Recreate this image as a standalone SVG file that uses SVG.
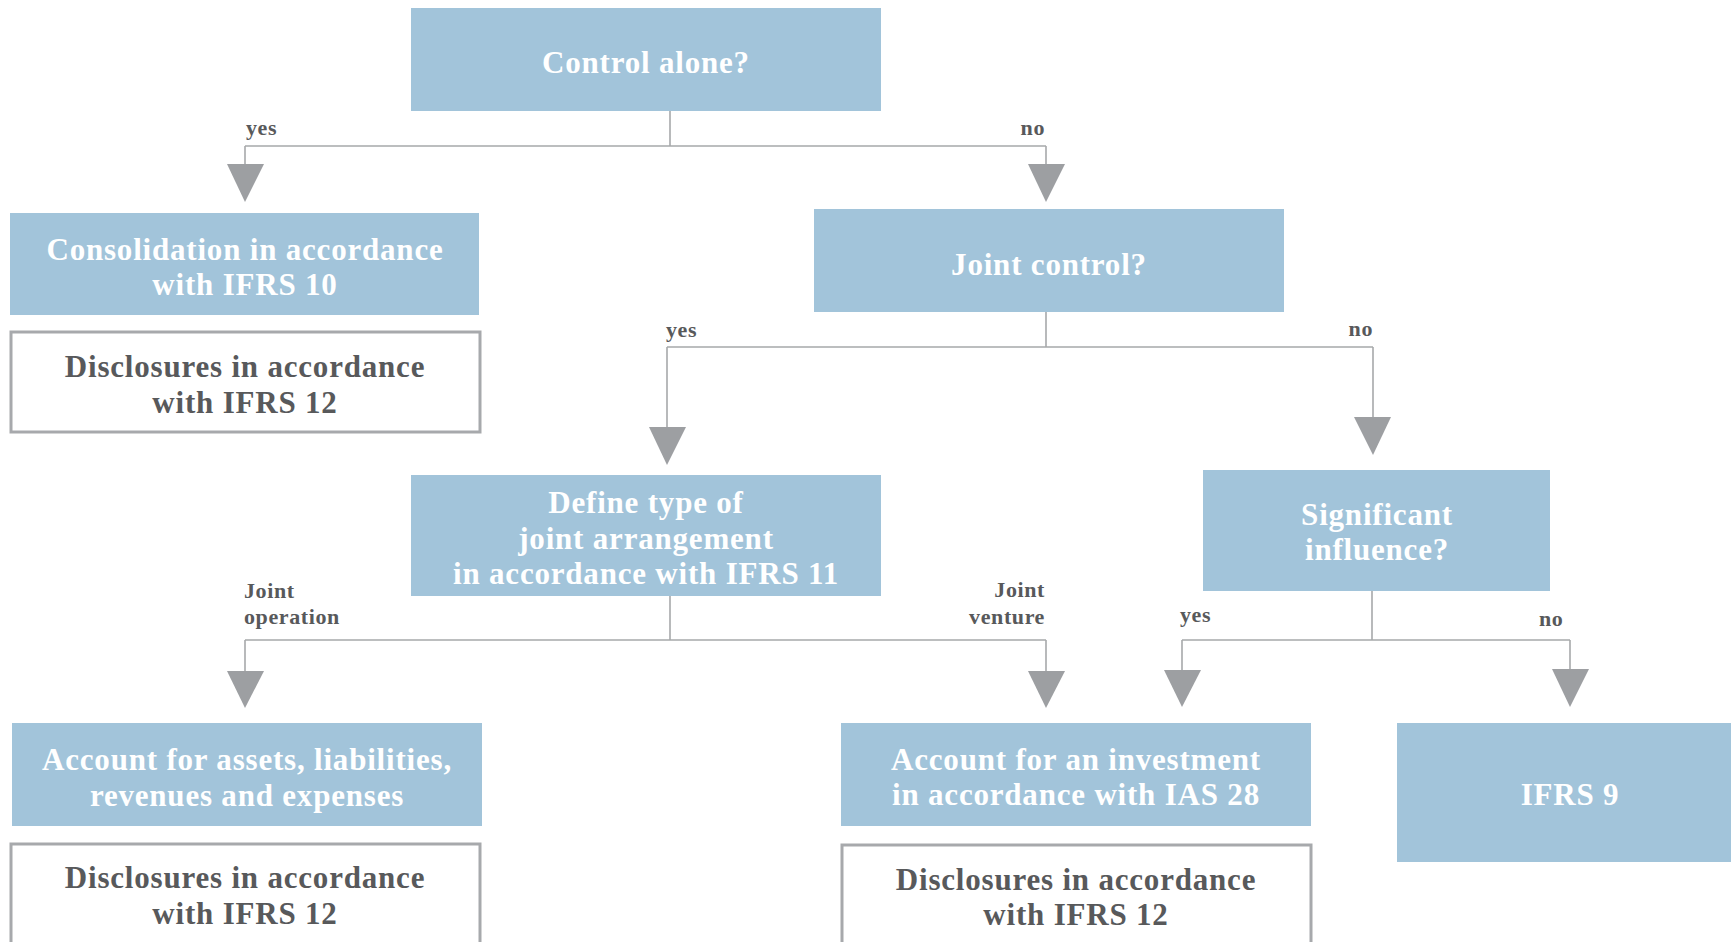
<svg xmlns="http://www.w3.org/2000/svg" width="1731" height="942" viewBox="0 0 1731 942">
<style>
.box{fill:#a2c4da}
.dbox{fill:#ffffff;stroke:#a7a9ac;stroke-width:3}
.t{font-family:"Liberation Serif",serif;font-weight:bold;font-size:31px;letter-spacing:0.8px;text-anchor:middle}
.w{fill:#ffffff}
.d{fill:#58595b}
.lbl{font-family:"Liberation Serif",serif;font-weight:bold;font-size:22px;letter-spacing:0.6px;fill:#58595b}
.ln{fill:none;stroke:#a7a9ab;stroke-width:1.6}
.ah{fill:#9d9fa2}
</style>
<rect width="1731" height="942" fill="#ffffff"/>
<g id="connectors">
<path class="ln" d="M670,111 V146 M245,146 H1046 M245,146 V166 M1046,146 V166"/>
<path class="ln" d="M1046,312 V347 M667,347 H1373 M667,347 V429 M1373,347 V419"/>
<path class="ln" d="M670,596 V640 M245,640 H1046 M245,640 V673 M1046,640 V673"/>
<path class="ln" d="M1372,591 V640 M1182,640 H1570 M1182,640 V672 M1570,640 V671"/>
<polygon class="ah" points="227,164 264,164 245,202"/>
<polygon class="ah" points="1028,164 1065,164 1046,202"/>
<polygon class="ah" points="649,427 686,427 667,465"/>
<polygon class="ah" points="1354,417 1391,417 1373,455"/>
<polygon class="ah" points="227,671 264,671 245,708"/>
<polygon class="ah" points="1028,671 1065,671 1046,708"/>
<polygon class="ah" points="1164,670 1201,670 1182,707"/>
<polygon class="ah" points="1552,669 1589,669 1570,707"/>
<text class="lbl" x="246" y="135">yes</text>
<text class="lbl" x="1045" y="135" text-anchor="end">no</text>
<text class="lbl" x="666" y="337">yes</text>
<text class="lbl" x="1373" y="336" text-anchor="end">no</text>
<text class="lbl" x="244" y="598">Joint</text>
<text class="lbl" x="244" y="624">operation</text>
<text class="lbl" x="1045" y="597" text-anchor="end">Joint</text>
<text class="lbl" x="1045" y="624" text-anchor="end">venture</text>
<text class="lbl" x="1180" y="622">yes</text>
<text class="lbl" x="1539" y="626">no</text>
</g>
<g id="control-alone">
<rect class="box" x="411" y="8" width="470" height="103"/>
<text class="t w" x="646" y="73">Control alone?</text>
</g>
<g id="consolidation">
<rect class="box" x="10" y="213" width="469" height="102"/>
<text class="t w" x="245" y="260">Consolidation in accordance</text>
<text class="t w" x="245" y="295">with IFRS 10</text>
</g>
<g id="disclosures-1">
<rect class="dbox" x="11" y="332" width="469" height="100"/>
<text class="t d" x="245" y="377">Disclosures in accordance</text>
<text class="t d" x="245" y="413">with IFRS 12</text>
</g>
<g id="joint-control">
<rect class="box" x="814" y="209" width="470" height="103"/>
<text class="t w" x="1049" y="275">Joint control?</text>
</g>
<g id="define-type">
<rect class="box" x="411" y="475" width="470" height="121"/>
<text class="t w" x="646" y="513">Define type of</text>
<text class="t w" x="646" y="549">joint arrangement</text>
<text class="t w" x="646" y="584">in accordance with IFRS 11</text>
</g>
<g id="significant-influence">
<rect class="box" x="1203" y="470" width="347" height="121"/>
<text class="t w" x="1377" y="525">Significant</text>
<text class="t w" x="1377" y="560">influence?</text>
</g>
<g id="account-assets">
<rect class="box" x="12" y="723" width="470" height="103"/>
<text class="t w" x="247" y="770">Account for assets, liabilities,</text>
<text class="t w" x="247" y="806">revenues and expenses</text>
</g>
<g id="disclosures-2">
<rect class="dbox" x="11" y="844" width="469" height="120"/>
<text class="t d" x="245" y="888">Disclosures in accordance</text>
<text class="t d" x="245" y="924">with IFRS 12</text>
</g>
<g id="account-investment">
<rect class="box" x="841" y="723" width="470" height="103"/>
<text class="t w" x="1076" y="770">Account for an investment</text>
<text class="t w" x="1076" y="805">in accordance with IAS 28</text>
</g>
<g id="disclosures-3">
<rect class="dbox" x="842" y="845" width="469" height="120"/>
<text class="t d" x="1076" y="890">Disclosures in accordance</text>
<text class="t d" x="1076" y="925">with IFRS 12</text>
</g>
<g id="ifrs9">
<rect class="box" x="1397" y="723" width="340" height="139"/>
<text class="t w" x="1570" y="805">IFRS 9</text>
</g>
</svg>
